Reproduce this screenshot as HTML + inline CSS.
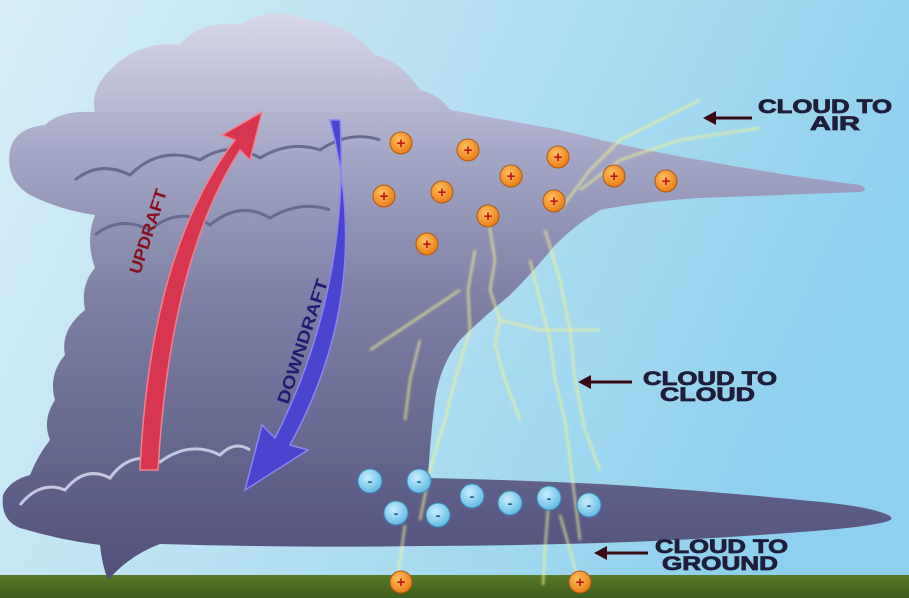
<!DOCTYPE html>
<html><head><meta charset="utf-8"><style>
html,body{margin:0;padding:0;width:909px;height:598px;overflow:hidden}
svg{display:block}
text{font-family:"Liberation Sans",sans-serif;font-weight:bold}
</style></head><body>
<svg width="909" height="598" viewBox="0 0 909 598" xmlns="http://www.w3.org/2000/svg">
<defs>
<linearGradient id="sky" x1="0" y1="0" x2="1" y2="0.3">
<stop offset="0" stop-color="#d6eef8"/><stop offset="0.5" stop-color="#b6e0f2"/><stop offset="1" stop-color="#8fd0ee"/>
</linearGradient>
<linearGradient id="cl" x1="0" y1="0" x2="0" y2="1">
<stop offset="0" stop-color="#d8d9ea"/><stop offset="0.25" stop-color="#a4a6c6"/><stop offset="0.5" stop-color="#7e80a6"/><stop offset="1" stop-color="#50507a"/>
</linearGradient>
<linearGradient id="gr" x1="0" y1="0" x2="0" y2="1">
<stop offset="0" stop-color="#5a7a2a"/><stop offset="1" stop-color="#3d5c1a"/>
</linearGradient>
<radialGradient id="pl" cx="0.4" cy="0.35" r="0.7"><stop offset="0" stop-color="#ffc060"/><stop offset="1" stop-color="#e87810"/></radialGradient>
<radialGradient id="mi" cx="0.4" cy="0.35" r="0.7"><stop offset="0" stop-color="#c8eefc"/><stop offset="1" stop-color="#5cb8e2"/></radialGradient>
<filter id="glow"><feGaussianBlur stdDeviation="1.2"/></filter>
</defs>
<rect width="909" height="598" fill="url(#sky)"/>
<rect y="575" width="909" height="23" fill="url(#gr)"/>
<path fill="url(#cl)" d="M110,70 Q140,40 180,45 Q200,20 240,25 Q270,5 310,20 Q350,25 375,55 Q400,60 420,90 Q440,95 450,110
L560,130 Q640,150 700,160 Q780,175 860,185 Q870,190 860,192 Q780,195 700,198 Q640,202 600,210 Q575,225 555,245 Q535,270 510,295 Q480,320 460,340 Q440,365 435,400 Q430,440 428,478
Q520,480 600,484 Q700,490 800,500 Q860,505 880,512 Q900,518 885,522 Q860,528 800,532 Q700,540 600,543 Q500,546 420,546 Q300,548 160,544 Q130,555 108,580 Q102,565 100,545 Q60,540 20,528 Q0,520 3,495 Q10,480 30,475 Q38,455 50,440 Q42,420 55,400 Q48,375 65,355 Q60,330 85,310 Q80,285 95,268 Q85,240 95,215 Q60,210 30,195 Q5,180 10,150 Q15,128 45,125 Q60,110 95,112 Q90,90 110,70 Z"/>
<path d="M75,180 Q100,160 130,175 Q160,145 200,160 Q230,140 260,158 Q290,140 320,150 Q350,130 380,140" fill="none" stroke="#686a90" stroke-width="3"/>
<path d="M95,235 Q120,215 150,230 Q180,205 210,225 Q240,200 270,218 Q300,200 330,210" fill="none" stroke="#686a90" stroke-width="3"/>
<path d="M20,505 Q40,480 65,490 Q85,465 110,478 Q130,450 160,462 Q190,440 220,455 Q235,440 250,450" fill="none" stroke="#c5c8e0" stroke-width="3"/>
<g fill="none" stroke="#f4f590" stroke-width="2" opacity="0.8" filter="url(#glow)">
<path d="M488,218 L495,260 L490,290 L500,320 L495,345 L505,380 L520,420"/>
<path d="M475,250 L468,290 L470,330 L455,380 L445,420 L430,470 L420,520"/>
<path d="M530,260 L540,300 L550,340 L555,380 L565,420 L570,460 L575,500 L580,540"/>
<path d="M545,230 L560,280 L570,330 L575,380 L585,430 L600,470"/>
<path d="M560,210 L590,170 L620,140 L660,120 L700,100"/>
<path d="M580,190 L620,160 L680,140 L760,128"/>
<path d="M460,290 L430,310 L400,330 L370,350"/>
<path d="M420,340 L410,380 L405,420"/>
<path d="M405,525 L400,560 L397,582"/>
<path d="M548,510 L545,550 L543,585"/>
<path d="M560,515 L570,550 L578,580"/>
<path d="M500,320 L540,330 L600,330"/>
</g>
<path d="M140,470 Q150,250 235,140 L222,135 L262,112 L250,160 L240,150 Q170,260 158,470 Z" fill="#d8364e" stroke="#f08090" stroke-width="1.5"/>
<text transform="translate(140,275) rotate(-72)" font-size="17" fill="#8a1020" textLength="88" lengthAdjust="spacingAndGlyphs">UPDRAFT</text>
<path d="M330,120 Q375,290 290,445 L308,450 L245,490 L262,425 L275,438 Q350,290 340,120 Z" fill="#4a44d0" stroke="#8a86f0" stroke-width="1.5"/>
<text transform="translate(288,405) rotate(-72)" font-size="17" fill="#221c70" textLength="130" lengthAdjust="spacingAndGlyphs">DOWNDRAFT</text>
<g stroke="#b05a10" stroke-width="1">
<circle cx="401" cy="143" r="11" fill="url(#pl)"/><circle cx="468" cy="150" r="11" fill="url(#pl)"/><circle cx="558" cy="157" r="11" fill="url(#pl)"/>
<circle cx="511" cy="176" r="11" fill="url(#pl)"/><circle cx="384" cy="196" r="11" fill="url(#pl)"/><circle cx="442" cy="192" r="11" fill="url(#pl)"/>
<circle cx="614" cy="176" r="11" fill="url(#pl)"/><circle cx="666" cy="181" r="11" fill="url(#pl)"/><circle cx="488" cy="216" r="11" fill="url(#pl)"/>
<circle cx="554" cy="201" r="11" fill="url(#pl)"/><circle cx="427" cy="244" r="11" fill="url(#pl)"/>
<circle cx="401" cy="582" r="11" fill="url(#pl)"/><circle cx="580" cy="582" r="11" fill="url(#pl)"/>
</g>
<g font-size="15" fill="#c01818" text-anchor="middle">
<text x="401" y="148">+</text><text x="468" y="155">+</text><text x="558" y="162">+</text><text x="511" y="181">+</text><text x="384" y="201">+</text><text x="442" y="197">+</text><text x="614" y="181">+</text><text x="666" y="186">+</text><text x="488" y="221">+</text><text x="554" y="206">+</text><text x="427" y="249">+</text><text x="401" y="587">+</text><text x="580" y="587">+</text>
</g>
<g stroke="#3a8ab8" stroke-width="1">
<circle cx="370" cy="481" r="12" fill="url(#mi)"/><circle cx="419" cy="481" r="12" fill="url(#mi)"/><circle cx="472" cy="496" r="12" fill="url(#mi)"/>
<circle cx="510" cy="503" r="12" fill="url(#mi)"/><circle cx="549" cy="498" r="12" fill="url(#mi)"/><circle cx="589" cy="505" r="12" fill="url(#mi)"/>
<circle cx="396" cy="513" r="12" fill="url(#mi)"/><circle cx="438" cy="515" r="12" fill="url(#mi)"/>
</g>
<g font-size="14" fill="#2a5a80" text-anchor="middle">
<text x="370" y="486">-</text><text x="419" y="486">-</text><text x="472" y="501">-</text><text x="510" y="508">-</text><text x="549" y="503">-</text><text x="589" y="510">-</text><text x="396" y="518">-</text><text x="438" y="520">-</text>
</g>
<g fill="#1e1e3a" font-size="19" stroke="#1e1e3a" stroke-width="0.8">
<text x="758" y="113" textLength="134" lengthAdjust="spacingAndGlyphs">CLOUD TO</text><text x="810" y="130" textLength="50" lengthAdjust="spacingAndGlyphs">AIR</text>
<text x="643" y="385" textLength="134" lengthAdjust="spacingAndGlyphs">CLOUD TO</text><text x="660" y="401" textLength="95" lengthAdjust="spacingAndGlyphs">CLOUD</text>
<text x="655" y="553" textLength="133" lengthAdjust="spacingAndGlyphs">CLOUD TO</text><text x="662" y="570" textLength="116" lengthAdjust="spacingAndGlyphs">GROUND</text>
</g>
<g stroke="#3a0a14" stroke-width="3" fill="#3a0a14">
<line x1="752" y1="118" x2="712" y2="118"/><path d="M703,118 L716,111 L716,125 Z" stroke="none"/>
<line x1="632" y1="382" x2="588" y2="382"/><path d="M578,382 L591,375 L591,389 Z" stroke="none"/>
<line x1="648" y1="553" x2="604" y2="553"/><path d="M594,553 L607,546 L607,560 Z" stroke="none"/>
</g>
</svg>
</body></html>
